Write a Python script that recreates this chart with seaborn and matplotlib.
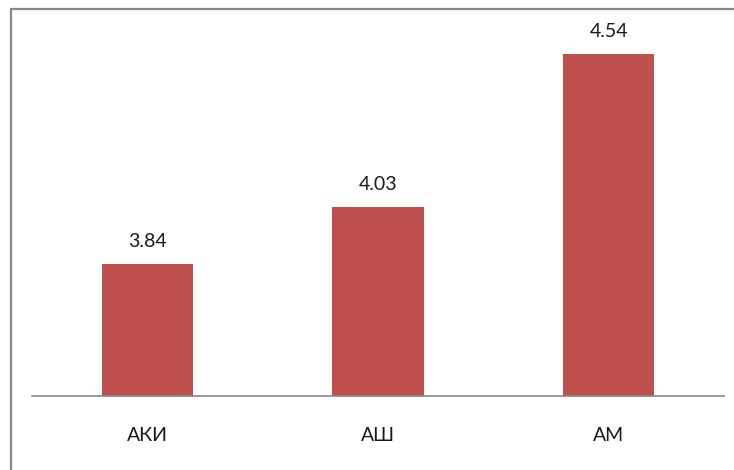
import matplotlib
matplotlib.use("Agg")
import matplotlib.pyplot as plt
from matplotlib.lines import Line2D
import seaborn as sns
import pandas as pd

categories = ["АКИ", "АШ", "АМ"]
values = [3.84, 4.03, 4.54]
value_labels = ["3.84", "4.03", "4.54"]

sns.set_style("white")
plt.rcParams["font.family"] = ["Lato", "DejaVu Sans"]

W, H = 734, 470
fig = plt.figure(figsize=(W / 100, H / 100), dpi=100)
ax = fig.add_axes([32 / W, (H - 396) / H, (724 - 32) / W, (396 - 6) / H])

df = pd.DataFrame({"group": categories, "score": values})
sns.barplot(data=df, x="group", y="score", color="#C0504D", saturation=1,
            width=0.395, ax=ax, edgecolor="none")

ax.set_ylim(3.4, 4.7)
ax.set_xlim(-0.5, 2.5)
ax.set_xlabel("")
ax.set_ylabel("")
ax.set_yticks([])
for side in ["top", "right", "left"]:
    ax.spines[side].set_visible(False)
ax.spines["bottom"].set_color("#868686")
ax.spines["bottom"].set_linewidth(1.2)
ax.tick_params(axis="x", length=0, pad=22, labelsize=14, labelcolor="#1a1a1a")

ax.bar_label(ax.containers[0], labels=value_labels, padding=10,
             fontsize=14, color="#1a1a1a")

# frame around the chart area (top and left edges)
frame_kw = dict(color="#888888", linewidth=1.6, transform=fig.transFigure)
fig.add_artist(Line2D([11 / W, 1.0], [1 - 9 / H, 1 - 9 / H], **frame_kw))
fig.add_artist(Line2D([11 / W, 11 / W], [0.0, 1 - 9 / H], **frame_kw))

fig.savefig("out.png", dpi=100)
